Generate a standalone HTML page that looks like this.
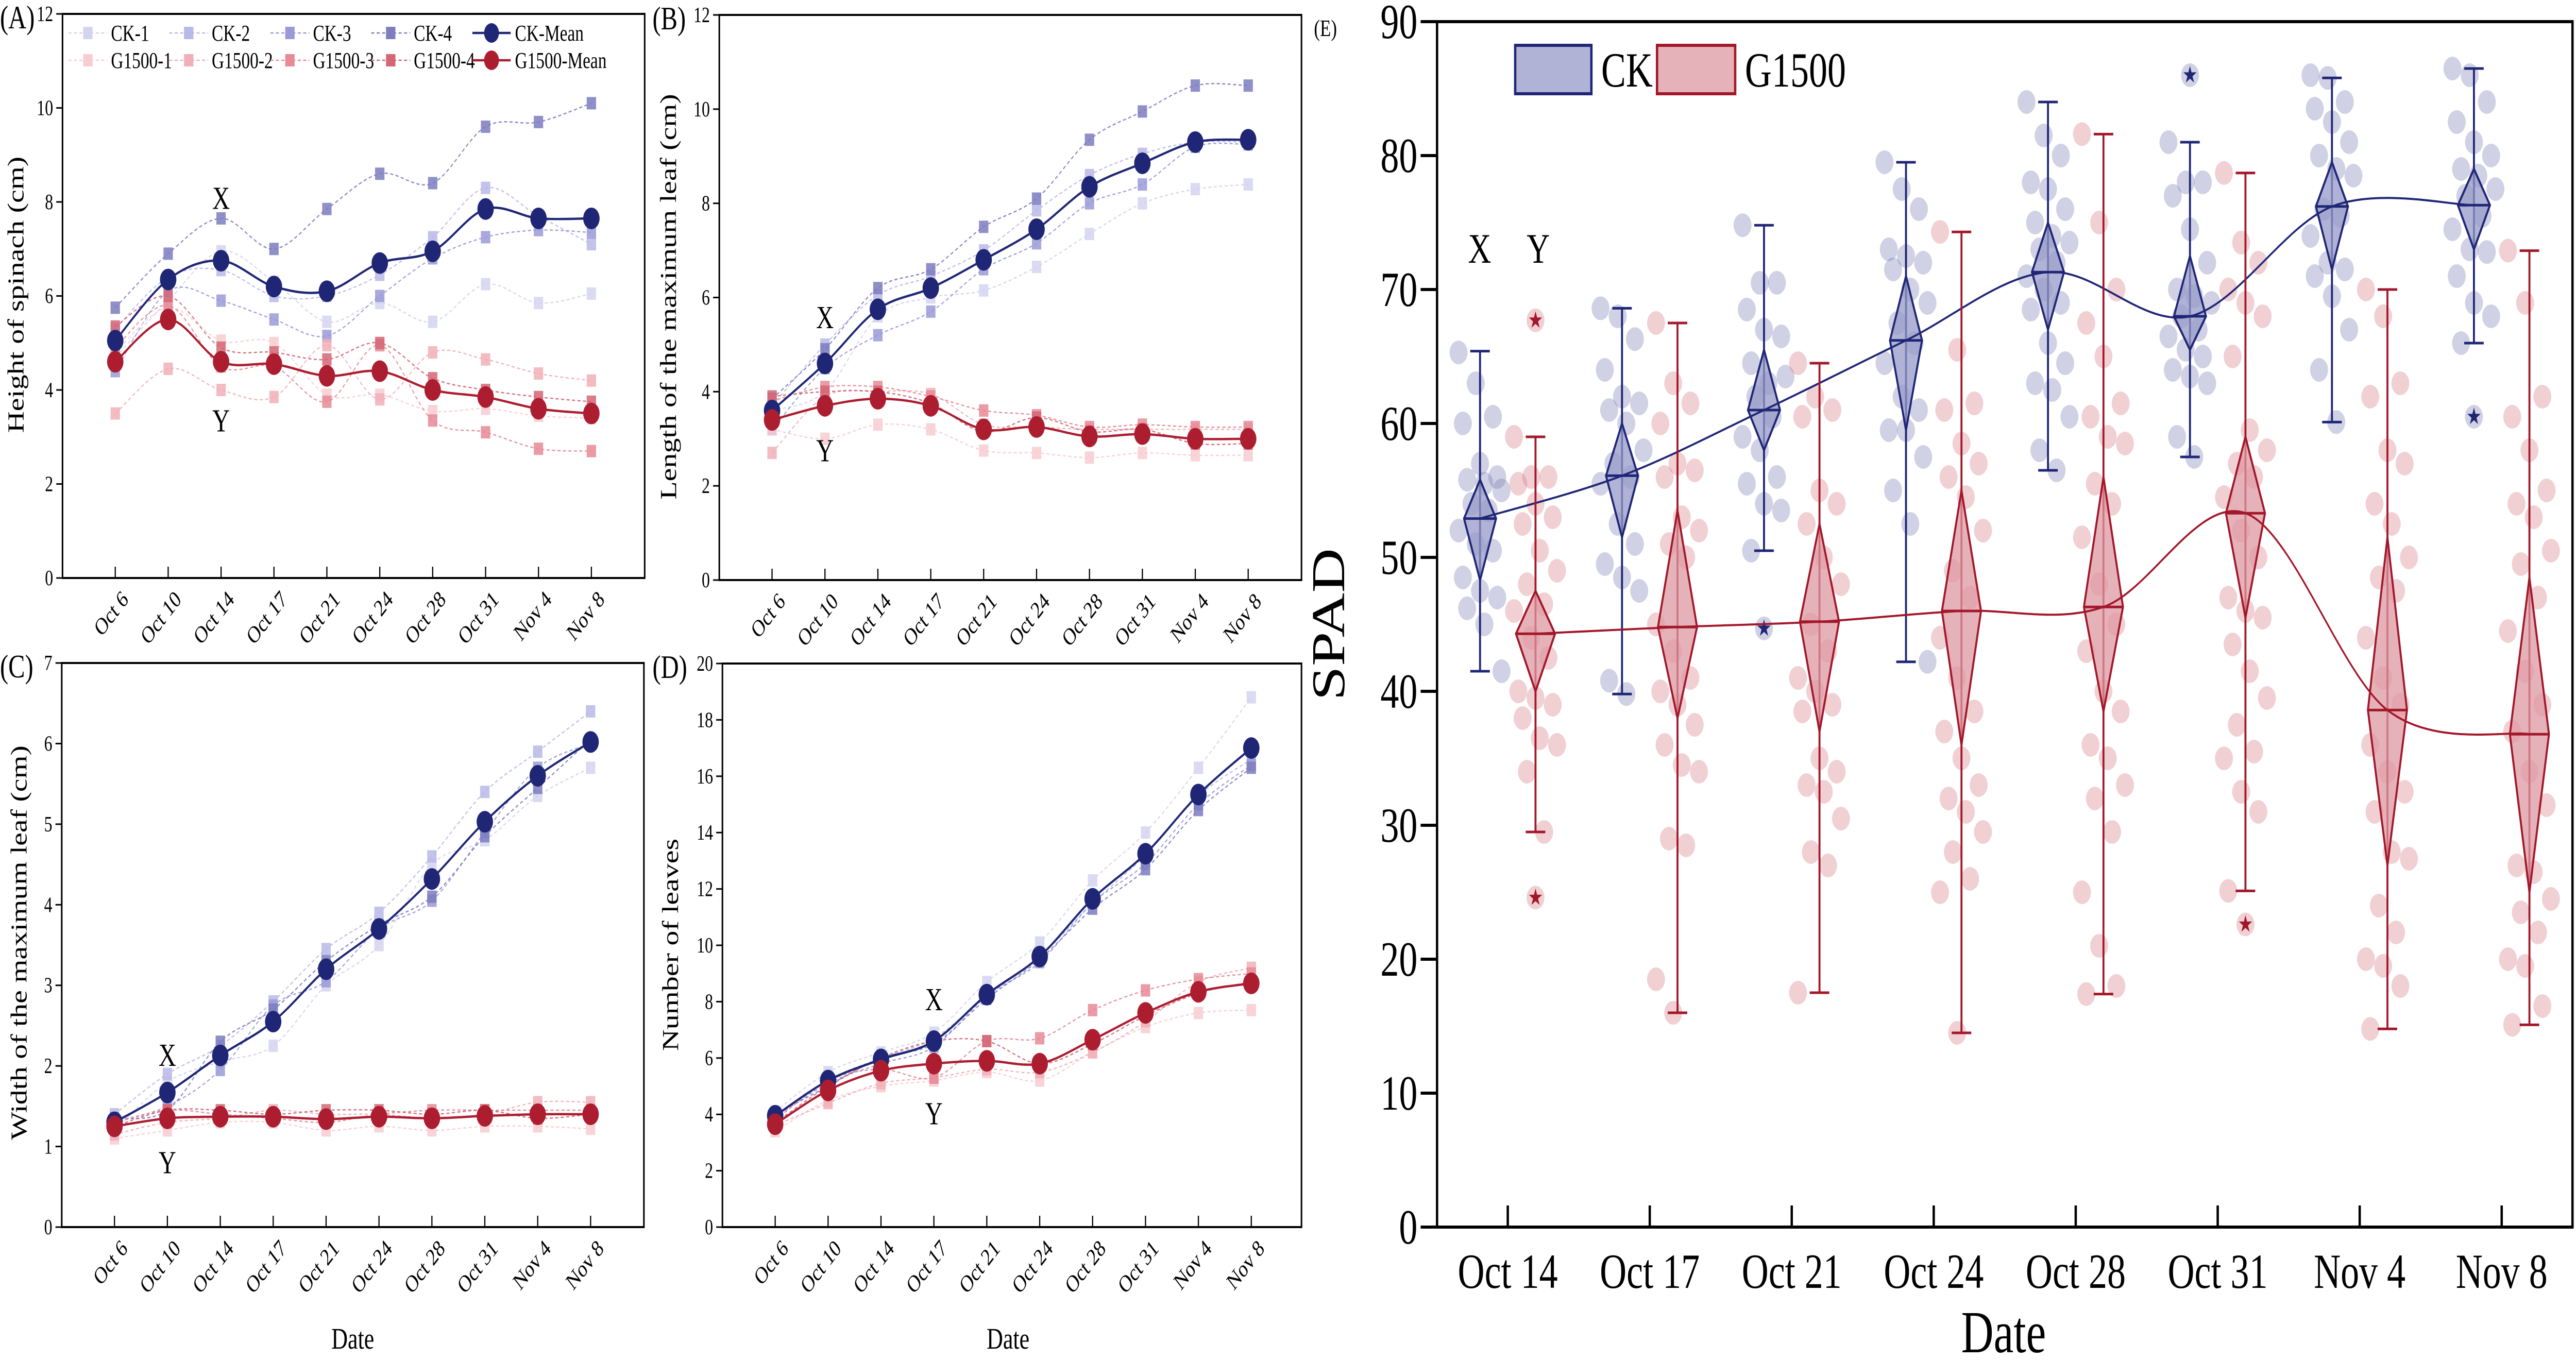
<!DOCTYPE html>
<html><head><meta charset="utf-8"><style>
html,body{margin:0;padding:0;background:#fff;overflow:hidden;}
svg{display:block;width:100vw;height:100vh;font-family:"Liberation Serif","Times New Roman",serif;}
</style></head><body>
<svg id="fig" viewBox="0 0 6593 2640" preserveAspectRatio="none" xmlns="http://www.w3.org/2000/svg"></svg>
<script>
// ---------- data ----------
const dates = ["Oct 6","Oct 10","Oct 14","Oct 17","Oct 21","Oct 24","Oct 28","Oct 31","Nov 4","Nov 8"];
// (A) height
const heightCK1 = [4.7,5.9,6.95,6.3,5.45,5.85,5.45,6.25,5.85,6.05];
const heightCK2 = [5.3,6.4,6.55,6.0,6.0,6.45,7.25,8.3,7.7,7.1];
const heightCK3 = [4.4,6.1,5.9,5.5,5.15,6.0,6.8,7.25,7.4,7.35];
const heightCK4 = [5.75,6.9,7.65,7.0,7.85,8.6,8.4,9.6,9.7,10.1];
const heightCKMean = [5.05,6.35,6.75,6.2,6.1,6.7,6.95,7.85,7.65,7.65];
const heightG1 = [4.8,5.75,5.05,5.0,3.9,3.9,3.55,3.6,3.45,3.4];
const heightG2 = [3.5,4.45,4.0,3.85,4.95,3.8,4.8,4.65,4.35,4.2];
const heightG3 = [4.9,5.8,4.5,4.5,3.75,4.95,3.35,3.1,2.75,2.7];
const heightG4 = [5.35,6.0,4.9,4.8,4.65,5.0,4.25,4.0,3.85,3.75];
const heightGMean = [4.6,5.5,4.6,4.55,4.3,4.4,4.0,3.85,3.6,3.5];
// (B) length of max leaf
const lengthCK1 = [3.6,4.0,5.6,6.0,6.15,6.65,7.35,8.0,8.3,8.4];
const lengthCK2 = [3.7,5.0,6.05,6.45,7.0,7.85,8.6,9.05,9.3,9.3];
const lengthCK3 = [3.2,4.5,5.2,5.7,6.6,7.15,8.0,8.4,9.2,9.25];
const lengthCK4 = [3.85,4.9,6.2,6.6,7.5,8.1,9.35,9.95,10.5,10.5];
const lengthCKMean = [3.6,4.6,5.75,6.2,6.8,7.45,8.35,8.85,9.3,9.35];
const lengthG1 = [3.2,3.0,3.3,3.2,2.75,2.7,2.6,2.7,2.65,2.65];
const lengthG2 = [2.7,3.9,4.0,3.95,3.3,3.25,3.2,3.2,3.2,3.2];
const lengthG3 = [3.8,4.1,4.1,3.9,3.6,3.5,3.25,3.3,3.25,3.25];
const lengthG4 = [3.9,4.0,4.0,3.75,3.15,3.45,3.15,3.2,2.9,2.9];
const lengthGMean = [3.4,3.7,3.85,3.7,3.2,3.25,3.05,3.1,3.0,3.0];
// (C) width of max leaf
const widthCK1 = [1.2,1.8,2.05,2.25,3.0,3.5,4.5,4.8,5.35,5.7];
const widthCK2 = [1.4,1.9,2.25,2.8,3.45,3.9,4.6,5.4,5.9,6.4];
const widthCK3 = [1.3,1.5,1.95,2.75,3.05,3.7,4.05,4.9,5.7,6.0];
const widthCK4 = [1.35,1.45,2.3,2.7,3.3,3.75,4.1,4.85,5.45,6.05];
const widthCKMean = [1.3,1.67,2.13,2.55,3.2,3.7,4.32,5.03,5.6,6.02];
const widthG1 = [1.1,1.2,1.3,1.3,1.2,1.25,1.2,1.25,1.25,1.22];
const widthG2 = [1.15,1.3,1.35,1.45,1.4,1.4,1.35,1.4,1.55,1.55];
const widthG3 = [1.3,1.45,1.4,1.35,1.3,1.4,1.45,1.45,1.45,1.45];
const widthG4 = [1.25,1.45,1.45,1.4,1.45,1.45,1.4,1.45,1.35,1.4];
const widthGMean = [1.25,1.35,1.37,1.37,1.34,1.37,1.35,1.38,1.4,1.4];
// (D) number of leaves
const leavesCK1 = [4.1,5.5,6.2,6.9,8.7,10.1,12.3,14.0,16.3,18.8];
const leavesCK2 = [3.8,5.2,6.0,6.7,8.2,9.6,11.5,13.2,15.3,16.6];
const leavesCK3 = [3.9,5.1,5.8,6.4,8.2,9.4,11.5,12.9,15.0,16.4];
const leavesCK4 = [4.0,5.0,6.0,6.5,8.1,9.5,11.3,12.7,14.8,16.3];
const leavesCKMean = [3.95,5.2,5.95,6.6,8.25,9.6,11.65,13.25,15.35,17.0];
const leavesG1 = [3.4,4.5,5.0,5.2,5.5,5.2,6.2,7.1,7.6,7.7];
const leavesG2 = [3.6,4.4,5.1,5.3,5.6,5.5,6.2,7.3,8.7,9.2];
const leavesG3 = [3.8,5.2,5.6,5.3,6.6,6.7,7.7,8.4,8.8,9.0];
const leavesG4 = [3.7,5.0,6.0,6.6,6.6,5.8,6.5,7.5,8.3,8.7];
const leavesGMean = [3.65,4.85,5.55,5.8,5.9,5.8,6.65,7.6,8.35,8.65];
// (E) SPAD
const spadDates = ["Oct 14","Oct 17","Oct 21","Oct 24","Oct 28","Oct 31","Nov 4","Nov 8"];
const spadTicks = [0,10,20,30,40,50,60,70,80,90];
const ckMean = [52.9,56.1,61.0,66.2,71.3,68.0,76.2,76.3];
const ckCIHigh = [55.8,60.0,65.5,71.0,75.0,72.5,79.5,79.0];
const ckCILow = [48.3,51.5,58.0,59.5,67.0,65.5,71.5,73.0];
const ckMax = [65.4,68.6,74.8,79.5,84.0,81.0,85.8,86.5];
const ckMin = [41.5,39.8,50.5,42.2,56.5,57.5,60.1,66.0];
const gMean = [44.3,44.8,45.2,46.0,46.3,53.3,38.6,36.8];
const gCIHigh = [47.5,53.5,52.5,55.0,56.0,59.0,51.5,48.5];
const gCILow = [40.0,38.0,37.0,36.0,38.5,45.5,27.0,25.0];
const gMax = [59.0,67.5,64.5,74.3,81.6,78.7,70.0,72.9];
const gMin = [29.5,16.0,17.5,14.5,17.4,25.1,14.8,15.1];
const ckOutliers = [[2,44.7],[5,86.0],[7,60.5]];
const gOutliers = [[0,67.7],[0,24.6],[5,22.6]];
const ckPoints = [
 [65.3,63,60.5,60,57,56,55.8,55.5,55,54,53.5,52,51,50.5,48.5,47.5,47,46.2,45,41.5],
 [68.6,68,66.3,64,62,61.5,61,60,58,57,56,55.5,52.5,51,49.5,48.5,47.5,40.8,39.8],
 [74.8,70.5,70.5,68.5,67,66.5,64.5,63,63.5,62,60.5,59,58,56,55.5,54,53.5,50.5],
 [79.5,77.5,76,73,72.5,72,71.5,70,69,67.5,66,64.5,62,61,59.5,59.5,57.5,55,52.5,42.2],
 [84,81.5,80,78,77.5,76,75,74,73.5,73,72,71,70,69,68.5,66,64.5,63,62.5,60.5,58,56.5],
 [81,78,78,77,74.5,72,70,69.5,69,68,67,66.5,65.5,65,64,63.5,63,59,57.5],
 [86,85.8,84,83.5,82.5,81,80,79,78.5,76,75.5,74,72,71.5,71,69.5,67,64,60.1],
 [86.5,86,84,82.5,81,80,79,78.5,77.5,77,75.5,74.5,73,72.8,71,69,68,66]
];
const gPoints = [
 [59,56,56,55.5,54,53,52.5,50.5,49,48,46.5,46,44,42.5,40,39.5,39,38,36.5,36,34,29.5],
 [67.5,63,61.5,60,57,56.5,56,53,52,51,50,45,43,41,40,39,37.5,36,34.5,34,29,28.5,18.5,16],
 [64.5,62,61,60.5,55,54,52.5,50,48,45,43,41,40,39,38.5,35,34,33,32.5,30.5,28,27,17.5],
 [74.3,65.5,61.5,61,58.5,57,56,54.5,52,49,47,44,41,38.5,37,35,33,32,31,29.5,28,26,25,14.5],
 [81.6,75,70,67.5,65,61.5,60.5,59,58.5,55.5,54,51.5,48,45,43,40,38.5,36,35,33,32,29.5,25,21,18,17.4],
 [78.7,73.5,72,70,69,68,65,59.5,58,57,56,54.5,52,50,47,46,45.5,43.5,41.5,39.5,37.5,35.5,35,32.5,31,25.1],
 [70,68,63,62,58,57,54,52.5,50,48.5,47.5,44,41,39,36,34,32.5,31,28,27.5,24,22,20,19.5,18,14.8],
 [72.9,69,62,60.5,58,55,54,53,50.5,49.5,47,44.5,41.5,39,37,34,31.5,27,26.5,24.5,23.5,22,20,19.5,16.5,15.1]
];

// ---------- helpers ----------
const NS="http://www.w3.org/2000/svg";
const svg=document.getElementById('fig');
function mk(tag,attrs,parent,text){const e=document.createElementNS(NS,tag);for(const k in attrs)e.setAttribute(k,attrs[k]);if(text!==undefined)e.textContent=text;(parent||svg).appendChild(e);return e;}
function smooth(p){let d=`M${p[0][0]},${p[0][1]}`;for(let i=0;i<p.length-1;i++){const p0=p[i-1]||p[i],p1=p[i],p2=p[i+1],p3=p[i+2]||p2;const c1x=p1[0]+(p2[0]-p0[0])/6,c1y=p1[1]+(p2[1]-p0[1])/6,c2x=p2[0]-(p3[0]-p1[0])/6,c2y=p2[1]-(p3[1]-p1[1])/6;d+=` C${c1x},${c1y} ${c2x},${c2y} ${p2[0]},${p2[1]}`;}return d;}

const ckRepColors=["#d4d4f0","#b9b9e8","#9a9ad8","#7d7dc0"];
const gRepColors=["#f7cdd2","#f1afb7","#e68a96","#d46676"];
const CKC="#1f2676", GC="#ad1d30";

function linePanel(cfg){
  const g=mk('g',{});
  
  
  const yS=v=>cfg.bottom-(v/cfg.ymax)*(cfg.bottom-cfg.top);
  const xS=i=>cfg.x0+i*135.4;
  const box=mk('rect',{x:cfg.left,y:cfg.top,width:cfg.right-cfg.left,height:cfg.bottom-cfg.top,fill:'none',stroke:'#000','stroke-width':4},g);
  
  
  for(let v=0;v<=cfg.ymax;v+=cfg.ystep){
    mk('line',{x1:cfg.left-16,x2:cfg.left,y1:yS(v),y2:yS(v),stroke:'#000','stroke-width':3},g);
    const t=mk('text',{x:cfg.left-24,y:yS(v)+14,'font-size':42,'text-anchor':'end'},g,String(v));
    
    
  }
  dates.forEach((d,i)=>{
    mk('line',{x1:xS(i),x2:xS(i),y1:cfg.bottom,y2:cfg.bottom-22,stroke:'#000','stroke-width':3},g);
    const tx=xS(i)+36, ty=cfg.bottom+44;
    const t=mk('text',{x:tx,y:ty,'font-size':46,'text-anchor':'end',transform:`rotate(-45 ${tx} ${ty})`},g,d);
    
    
  });
  const reps=[[cfg.ck,ckRepColors],[cfg.gr,gRepColors]];
  reps.forEach(([arrs,cols])=>{
    arrs.forEach((arr,k)=>{
      const pts=arr.map((v,i)=>[xS(i),yS(v)]);
      const l=mk('path',{d:smooth(pts),fill:'none',stroke:cols[k],'stroke-width':2.5,'stroke-dasharray':'8 6',opacity:0.9},g);
      
      
      pts.forEach(p=>{
        const s=mk('rect',{x:p[0]-12,y:p[1]-12,width:24,height:24,fill:cols[k],opacity:0.85},g);
        
        
      });
    });
  });
  [[cfg.ckMean,CKC,'ck-mean'],[cfg.gMean,GC,'g1500-mean']].forEach(([arr,col,nm])=>{
    const pts=arr.map((v,i)=>[xS(i),yS(v)]);
    const l=mk('path',{d:smooth(pts),fill:'none',stroke:col,'stroke-width':4.5},g);
    
    
    pts.forEach(p=>{
      const c=mk('circle',{cx:p[0],cy:p[1],r:21,fill:col},g);
      
      
    });
  });
  const ax=mk('text',{x:xS(cfg.xyIdx),y:yS(cfg.xVal),'font-size':62,'text-anchor':'middle'},g,'X');
  
  
  const ay=mk('text',{x:xS(cfg.xyIdx),y:yS(cfg.yVal)+44,'font-size':62,'text-anchor':'middle'},g,'Y');
  
  
  const yt=mk('text',{x:cfg.ylabX,y:cfg.ylabY,'font-size':58,'text-anchor':'middle',transform:`rotate(-90 ${cfg.ylabX} ${cfg.ylabY})`},g,cfg.ylab);
  
  
  const pl=mk('text',{x:cfg.plX,y:cfg.top+28,'font-size':64},g,cfg.label);
  
  
  if(cfg.dateTitle){
    const dt=mk('text',{x:(cfg.left+cfg.right)/2+(cfg.dateShift||0),y:2618,'font-size':58,'text-anchor':'middle'},g,'Date');
    
    
  }
  return g;
}

linePanel({name:'panel-a-height',label:'(A)',plX:0,left:160,right:1650,top:27,bottom:1122,ymax:12,ystep:2,x0:295,
  ck:[heightCK1,heightCK2,heightCK3,heightCK4],gr:[heightG1,heightG2,heightG3,heightG4],ckMean:heightCKMean,gMean:heightGMean,
  xyIdx:2,xVal:7.85,yVal:3.6,ylab:'Height of spinach (cm)',ylabX:60,ylabY:572});
linePanel({name:'panel-b-length',label:'(B)',plX:1670,left:1841,right:3331,top:29,bottom:1126,ymax:12,ystep:2,x0:1976,
  ck:[lengthCK1,lengthCK2,lengthCK3,lengthCK4],gr:[lengthG1,lengthG2,lengthG3,lengthG4],ckMean:lengthCKMean,gMean:lengthGMean,
  xyIdx:1,xVal:5.35,yVal:3.0,ylab:'Length of the maximum leaf (cm)',ylabX:1730,ylabY:576});
linePanel({name:'panel-c-width',label:'(C)',plX:0,left:158,right:1648,top:1287,bottom:2382,ymax:7,ystep:1,x0:293,dateTitle:true,
  ck:[widthCK1,widthCK2,widthCK3,widthCK4],gr:[widthG1,widthG2,widthG3,widthG4],ckMean:widthCKMean,gMean:widthGMean,
  xyIdx:1,xVal:2.0,yVal:0.95,ylab:'Width of the maximum leaf (cm)',ylabX:68,ylabY:1830});
linePanel({name:'panel-d-leaves',label:'(D)',plX:1670,left:1849,right:3331,top:1288,bottom:2382,ymax:20,ystep:2,x0:1984,dateTitle:true,dateShift:-10,
  ck:[leavesCK1,leavesCK2,leavesCK3,leavesCK4],gr:[leavesG1,leavesG2,leavesG3,leavesG4],ckMean:leavesCKMean,gMean:leavesGMean,
  xyIdx:3,xVal:7.7,yVal:4.45,ylab:'Number of leaves',ylabX:1735,ylabY:1834});

(function(){
  const lg=mk('g',{});
  
  
  const xs=[225,483,742,1000];
  const rows=[[ 'CK-',ckRepColors,CKC,'CK-Mean',64],['G1500-',gRepColors,GC,'G1500-Mean',117]];
  rows.forEach(([pre,cols,mc,mlab,y])=>{
    xs.forEach((x,k)=>{
      mk('line',{x1:x-50,x2:x+50,y1:y,y2:y,stroke:cols[k],'stroke-width':2.5,'stroke-dasharray':'8 6'},lg);
      mk('rect',{x:x-12,y:y-12,width:24,height:24,fill:cols[k]},lg);
      const t=mk('text',{x:x+59,y:y+15,'font-size':44},lg,pre+(k+1));
      
      
    });
    mk('line',{x1:1209,x2:1307,y1:y,y2:y,stroke:mc,'stroke-width':4.5},lg);
    mk('circle',{cx:1258,cy:y,r:19,fill:mc},lg);
    const t=mk('text',{x:1318,y:y+15,'font-size':44},lg,mlab);
    
    
  });
})();

(function(){
  const L=3678,R=6584,T=42,B=2382;
  const g=mk('g',{});
  
  
  const yS=v=>B-(v/90)*(B-T);
  const xS=i=>3859+i*363.4;
  const fr=mk('rect',{x:L,y:T,width:R-L,height:B-T,fill:'none',stroke:'#000','stroke-width':6},g);
  
  
  spadTicks.forEach(v=>{
    mk('line',{x1:L-42,x2:L,y1:yS(v),y2:yS(v),stroke:'#000','stroke-width':6},g);
    const t=mk('text',{x:L-50,y:yS(v)+32,'font-size':95,'text-anchor':'end'},g,String(v));
    
    
  });
  spadDates.forEach((d,i)=>{
    mk('line',{x1:xS(i),x2:xS(i),y1:B,y2:B-42,stroke:'#000','stroke-width':6},g);
    const t=mk('text',{x:xS(i),y:2500,'font-size':95,'text-anchor':'middle'},g,d);
    
    
  });
  const groups=[
    {pts:ckPoints,mean:ckMean,hi:ckCIHigh,lo:ckCILow,mx:ckMax,mn:ckMin,out:ckOutliers,off:-71,hw:41,dot:'rgba(112,116,172,0.33)',fill:'rgba(150,154,200,0.75)',col:CKC,nm:'ck'},
    {pts:gPoints,mean:gMean,hi:gCIHigh,lo:gCILow,mx:gMax,mn:gMin,out:gOutliers,off:71,hw:50,dot:'rgba(214,112,124,0.33)',fill:'rgba(222,152,162,0.75)',col:'#a3172a',nm:'g1500'}
  ];
  groups.forEach(G=>{
    G.pts.forEach((arr,i)=>{
      arr.forEach((v,j)=>{
        const jit=(((j*37)%11)-5)*11;
        const c=mk('circle',{cx:xS(i)+G.off+jit,cy:yS(v),r:23,fill:G.dot},g);
        
        
      });
    });
  });
  groups.forEach(G=>{
    G.mean.forEach((m,i)=>{
      const cx=xS(i)+G.off;
      const w=mk('path',{d:`M${cx},${yS(G.mx[i])}V${yS(G.mn[i])}M${cx-25},${yS(G.mx[i])}H${cx+25}M${cx-25},${yS(G.mn[i])}H${cx+25}`,stroke:G.col,'stroke-width':5,fill:'none'},g);
      
      
      const dm=mk('path',{d:`M${cx},${yS(G.hi[i])}L${cx+G.hw},${yS(m)}L${cx},${yS(G.lo[i])}L${cx-G.hw},${yS(m)}Z`,fill:G.fill,stroke:G.col,'stroke-width':5},g);
      
      
      mk('line',{x1:cx-G.hw,x2:cx+G.hw,y1:yS(m),y2:yS(m),stroke:G.col,'stroke-width':5},g);
    });
    G.out.forEach(([i,v])=>{
      const cx=xS(i)+G.off;
      mk('circle',{cx:cx,cy:yS(v),r:23,fill:G.dot},g);
      const s=mk('text',{x:cx,y:yS(v)+14,'font-size':44,'text-anchor':'middle',fill:G.col},g,'★');
      
      
    });
    const pts=G.mean.map((m,i)=>[xS(i)+G.off,yS(m)]);
    const c=mk('path',{d:smooth(pts),fill:'none',stroke:G.col,'stroke-width':4},g);
    
    
  });
  const lg=mk('g',{},g);
  
  
  mk('rect',{x:3878,y:88,width:195,height:94,fill:'rgba(150,154,200,0.75)',stroke:CKC,'stroke-width':6},lg);
  const t1=mk('text',{x:4098,y:168,'font-size':95},lg,'CK');
  
  
  mk('rect',{x:4241,y:88,width:200,height:94,fill:'rgba(222,152,162,0.75)',stroke:'#a3172a','stroke-width':6},lg);
  const t2=mk('text',{x:4466,y:168,'font-size':95},lg,'G1500');
  
  
  const ax=mk('text',{x:3787,y:yS(72),'font-size':82,'text-anchor':'middle'},g,'X');
  
  
  const ay=mk('text',{x:3937,y:yS(72),'font-size':82,'text-anchor':'middle'},g,'Y');
  
  
  const yt=mk('text',{x:3440,y:1212,'font-size':120,'text-anchor':'middle',transform:'rotate(-90 3440 1212)'},g,'SPAD');
  
  
  const xt=mk('text',{x:5128,y:2625,'font-size':115,'text-anchor':'middle'},g,'Date');
  
  
  const pl=mk('text',{x:3363,y:70,'font-size':46},g,'(E)');
  
  
})();
</script>
</body></html>
